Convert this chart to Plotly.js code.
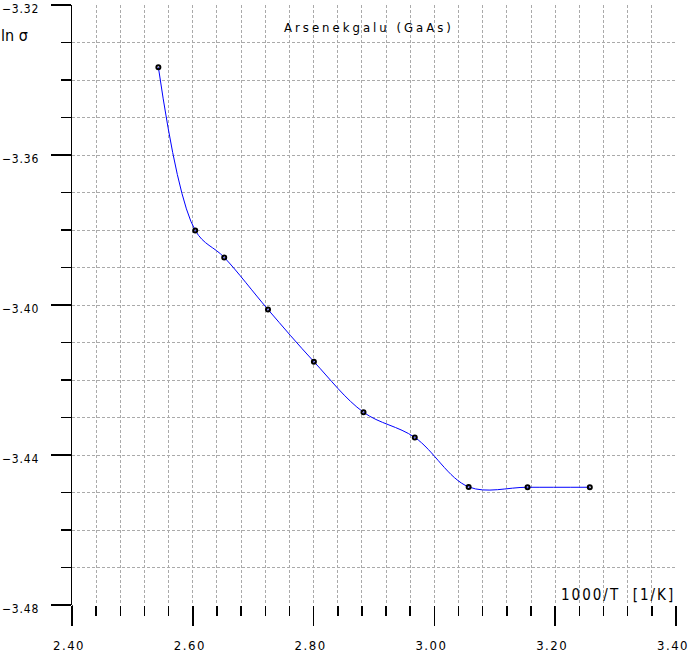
<!DOCTYPE html>
<html>
<head>
<meta charset="utf-8">
<script src="https://cdn.plot.ly/plotly-3.0.1.min.js"></script>
<style>
html,body{margin:0;padding:0;background:#fff;}
#chart{width:689px;height:661px;}
svg text{font-stretch:condensed;}
.xtick text{letter-spacing:1.5px;}
.ytick text{letter-spacing:0.8px;}
.annotation[data-index="0"] text{letter-spacing:3px;}
.annotation[data-index="2"] text{letter-spacing:2px;}
</style>
</head>
<body>
<div id="chart"></div>
<script>
var invT = [2.543, 2.604, 2.652, 2.7245, 2.8005, 2.8826, 2.9675, 3.0567, 3.1542, 3.2573];
var lnSigma = [-3.3366, -3.3801, -3.3873, -3.4012, -3.4151, -3.4286, -3.4353, -3.4485, -3.4486, -3.4486];
var titleText = 'Arsenekgalu (GaAs)';
var yLabel = 'ln \u03c3';
var xLabel = '1000/T  [1/K]';

var fnt = 'DejaVu Sans, sans-serif';

var trace = {
  x: invT, y: lnSigma, mode: 'lines+markers', type: 'scatter',
  line: {color: '#0000ff', width: 1, shape: 'spline', smoothing: 1},
  marker: {color: '#000', size: 4, symbol: 'circle-open', line: {color: '#000', width: 2}},
  hoverinfo: 'none', showlegend: false
};

var layout = {
  width: 689, height: 661,
  margin: {l: 72, r: 13, t: 5, b: 56},
  paper_bgcolor: '#fff', plot_bgcolor: '#fff',
  font: {family: fnt, size: 13, color: '#000'},
  xaxis: {
    range: [2.40, 3.40], dtick: 0.2, tick0: 2.4, tickformat: '.2f',
    ticks: 'outside', ticklen: 20, tickwidth: 1.5, tickcolor: '#000',
    ticklabelstandoff: 8, ticklabelshift: -3, ticklabeloverflow: 'allow',
    showline: false, zeroline: false,
    showgrid: true, gridcolor: '#aaa', gridwidth: 1, griddash: '3px,2px',
    minor: {dtick: 0.04, ticks: 'outside', ticklen: 10, tickwidth: 1.5, tickcolor: '#000',
            showgrid: true, gridcolor: '#aaa', gridwidth: 1, griddash: '3px,2px'},
    tickfont: {family: fnt, size: 13, color: '#000'}
  },
  yaxis: {
    range: [-3.48, -3.32], dtick: 0.04, tick0: -3.48, tickformat: '.2f',
    ticks: 'outside', ticklen: 20, tickwidth: 1.5, tickcolor: '#000',
    ticklabelstandoff: 9, ticklabelshift: 4, ticklabeloverflow: 'allow',
    showline: true, linecolor: '#000', linewidth: 1.5, zeroline: false,
    showgrid: true, gridcolor: '#aaa', gridwidth: 1, griddash: '3px,2px',
    minor: {dtick: 0.01, ticks: 'outside', ticklen: 10, tickwidth: 1.5, tickcolor: '#000',
            showgrid: true, gridcolor: '#aaa', gridwidth: 1, griddash: '3px,2px'},
    tickfont: {family: fnt, size: 12, color: '#000'}
  },
  shapes: [
    {type: 'line', xref: 'x', yref: 'paper', x0: 2.40, x1: 2.40, y0: 0, y1: -0.034,
     line: {color: '#000', width: 1.5}}
  ],
  annotations: [
    {text: titleText, xref: 'paper', yref: 'paper', x: 0.4917, y: 0.9617,
     xanchor: 'center', yanchor: 'middle', showarrow: false,
     font: {family: fnt, size: 13, color: '#000'}},
    {text: yLabel, xref: 'paper', yref: 'paper', x: -0.121, y: 0.95,
     xanchor: 'left', yanchor: 'middle', showarrow: false,
     font: {family: fnt, size: 16, color: '#000'}},
    {text: xLabel, xref: 'paper', yref: 'paper', x: 0.98, y: 0.0167,
     xanchor: 'right', yanchor: 'middle', showarrow: false,
     font: {family: fnt, size: 15, color: '#000'}}
  ]
};

Plotly.newPlot('chart', [trace], layout, {staticPlot: true, displayModeBar: false});
</script>
</body>
</html>
